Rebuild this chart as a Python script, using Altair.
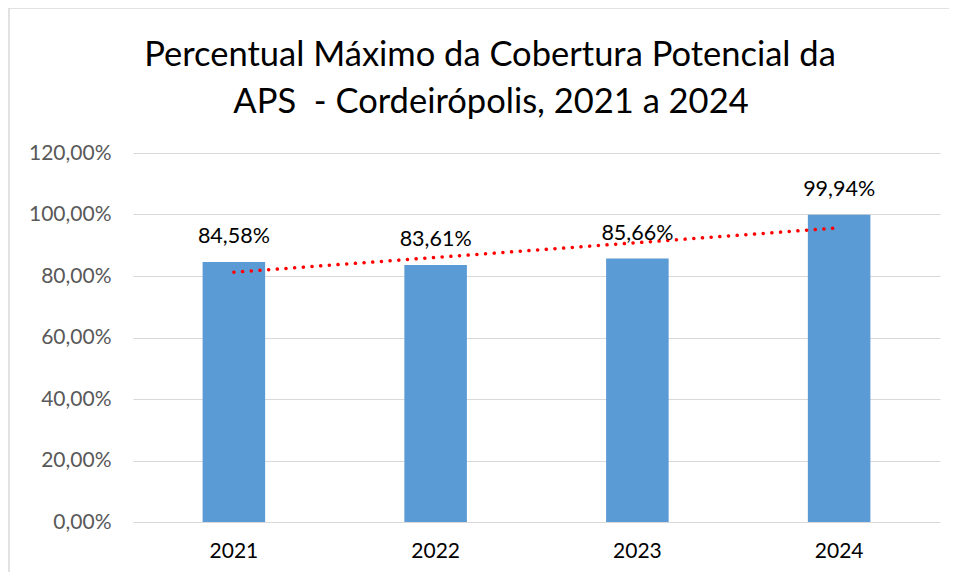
import altair as alt
import pandas as pd

years = ["2021", "2022", "2023", "2024"]
values = [84.58, 83.61, 85.66, 99.94]
labels = ["84,58%", "83,61%", "85,66%", "99,94%"]
y_ticks = [0, 20, 40, 60, 80, 100, 120]
title_lines = ["Percentual Máximo da Cobertura Potencial da", "APS\u00a0 - Cordeirópolis, 2021 a 2024"]

df = pd.DataFrame({"ano": years, "valor": values, "rotulo": labels,
                   "idx": list(range(1, len(years) + 1))})

FONT = "Lato"

x = alt.X("ano:N", title=None,
          scale=alt.Scale(paddingInner=0.69, paddingOuter=0.345),
          axis=alt.Axis(labelAngle=0, labelFontSize=21, labelColor="#000000",
                        labelFont=FONT, ticks=False, domain=False, labelPadding=18))
y = alt.Y("valor:Q", title=None,
          scale=alt.Scale(domain=[0, 120], nice=False),
          axis=alt.Axis(values=y_ticks, labelFontSize=21, labelColor="#595959",
                        labelFont=FONT, ticks=False, domain=False, labelPadding=22,
                        gridColor="#D9D9D9", gridWidth=1.2,
                        labelExpr="replace(format(datum.value, '.2f'), '.', ',') + '%'"))

base = alt.Chart(df)

bars = base.mark_bar(color="#5B9BD5").encode(x=x, y=y)

text = base.mark_text(baseline="alphabetic", dy=-19, fontSize=21.5, font=FONT,
                      color="#000000").encode(x=x, y=y, text="rotulo:N")

trend = base.transform_regression("idx", "valor", method="linear").transform_calculate(
    ano="'' + (2020 + datum.idx)"
).mark_line(color="#FF0000", strokeWidth=3.5, strokeCap="round",
            strokeDash=[0.1, 8.6]).encode(x=alt.X("ano:N"), y=alt.Y("valor:Q"))

border = alt.Chart(df).mark_rect(fill=None, stroke="#D9D9D9", strokeWidth=1.5).encode(
    x=alt.value(-124), x2=alt.value(822), y=alt.value(-145), y2=alt.value(440)
).transform_filter("datum.idx == 1")

t1 = alt.Chart(df).transform_filter("datum.idx == 1").mark_text(
    fontSize=34.5, font=FONT, color="#000000", align="center", baseline="alphabetic"
).encode(x=alt.value(357), y=alt.value(-87), text=alt.value(title_lines[0]))
t2 = alt.Chart(df).transform_filter("datum.idx == 1").mark_text(
    fontSize=34.5, font=FONT, color="#000000", align="center", baseline="alphabetic"
).encode(x=alt.value(358), y=alt.value(-40), text=alt.value(title_lines[1]))

chart = alt.layer(border, bars, trend, text, t1, t2).properties(
    width=807, height=369,
    background="#FFFFFF",
    autosize=alt.AutoSizeParams(type="none"),
    padding={"left": 125, "top": 145, "right": 9, "bottom": 50},
).configure_view(stroke="transparent", strokeWidth=0)

chart.save("out.html", embed_options={"renderer": "svg", "actions": False})
